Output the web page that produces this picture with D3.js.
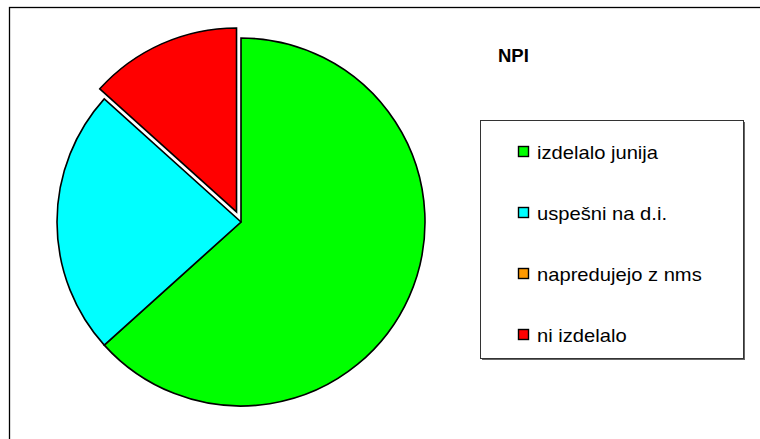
<!DOCTYPE html>
<html>
<head>
<meta charset="utf-8">
<script src="https://cdn.jsdelivr.net/npm/d3@7"></script>
<style>
  body { margin: 0; background: #fff; }
  svg { display: block; font-family: Arial, "Liberation Sans", sans-serif; }
</style>
</head>
<body>
<div id="SVG_CONTAINER"></div>
<script>
// chart data
const categories = ["izdelalo junija", "uspešni na d.i.", "napredujejo z nms", "ni izdelalo"];
const values = [19, 7, 0, 4];
const colors = ["#00ff00", "#00ffff", "#ff9900", "#ff0000"];
const explode = [0, 0, 0, 11];
const title = "NPI";

const width = 760, height = 439;

const svg = d3.select("#SVG_CONTAINER")
    .append("svg")
    .attr("width", width)
    .attr("height", height);

// outer frame (right/bottom edges fall outside the picture)
svg.append("rect")
    .attr("x", 9.5).attr("y", 7.5)
    .attr("width", 800).attr("height", 500)
    .attr("fill", "none")
    .attr("stroke", "#000")
    .attr("stroke-width", 1.3);

// pie
const cx = 241, cy = 222, radius = 184;

const pie = d3.pie().sort(null).value(d => d);
const arc = d3.arc().innerRadius(0).outerRadius(radius);
const arcs = pie(values);

svg.append("g")
    .attr("transform", "translate(" + cx + "," + cy + ")")
    .selectAll("path")
    .data(arcs)
    .enter()
    .filter(d => d.value > 0)
    .append("path")
    .attr("transform", function (d) {
        let mid = (d.startAngle + d.endAngle) / 2;
        let off = explode[d.index];
        return "translate(" + (Math.sin(mid) * off) + "," + (-Math.cos(mid) * off) + ")";
    })
    .attr("d", arc)
    .attr("fill", d => colors[d.index])
    .attr("stroke", "#000")
    .attr("stroke-width", 1.6)
    .attr("stroke-linejoin", "miter");

// title
svg.append("text")
    .attr("x", 498)
    .attr("y", 62)
    .attr("font-size", "18.5px")
    .attr("font-weight", "bold")
    .text(title);

// legend box with shadow
svg.append("rect")
    .attr("x", 482).attr("y", 122)
    .attr("width", 263).attr("height", 238)
    .attr("fill", "#666");
svg.append("rect")
    .attr("x", 480.5).attr("y", 120.5)
    .attr("width", 263).attr("height", 238)
    .attr("fill", "#fff")
    .attr("stroke", "#333")
    .attr("stroke-width", 1);

const legendY = d3.scaleBand()
    .domain(categories)
    .range([128, 372]);

const items = svg.append("g")
    .selectAll("g")
    .data(categories)
    .enter()
    .append("g")
    .attr("transform", d => "translate(0," + legendY(d) + ")");

items.append("rect")
    .attr("x", 518.5)
    .attr("y", 18.5)
    .attr("width", 10)
    .attr("height", 10)
    .attr("fill", (d, i) => colors[i])
    .attr("stroke", "#000")
    .attr("stroke-width", 1.4);

items.append("text")
    .attr("transform", "translate(537,31) scale(1.12,1)")
    .attr("font-size", "18px")
    .attr("fill", "#000")
    .text(d => d);
</script>
</body>
</html>
